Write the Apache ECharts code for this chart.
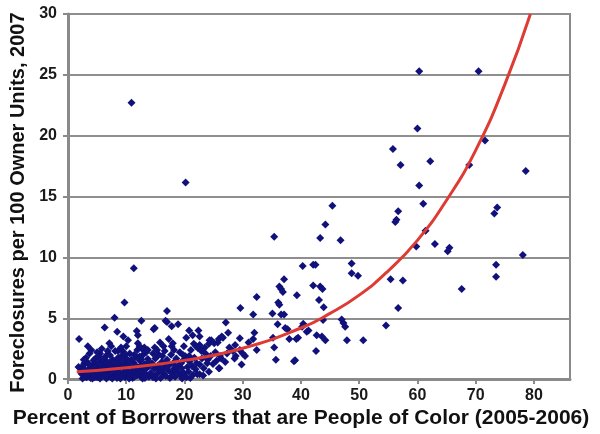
<!DOCTYPE html>
<html>
<head>
<meta charset="utf-8">
<script src="https://cdn.jsdelivr.net/npm/echarts@6/dist/echarts.min.js"></script>
<style>
html,body{margin:0;padding:0;background:#fff;}
#chart{width:600px;height:434px;}
</style>
</head>
<body>
<div id="chart"></div>
<script>
var xTitle = "Percent of Borrowers that are People of Color (2005-2006)";
var yTitle = "Foreclosures per 100 Owner Units, 2007";

var clusterLow = [
[2.1,0.9],[2.4,0.4],[2.6,1.1],[2.9,0.2],[3.0,0.7],[3.3,1.4],[3.5,0.3],[3.7,0.9],[3.9,0.1],[4.1,0.6],[4.3,1.2],[4.5,0.35],[4.7,1.7],[4.8,0.8],[5.0,0.15],[5.2,1.0],[5.4,0.5],[5.6,1.45],[5.8,0.25],[5.9,0.75],[6.1,1.15],[6.3,0.4],[6.5,1.9],[6.6,0.05],[6.8,0.95],[7.0,0.55],[7.1,1.3],[7.3,0.2],[7.5,0.8],[7.7,1.6],[7.9,0.35],[8.0,1.05],[8.2,0.6],[8.4,0.1],[8.5,1.4],[8.7,0.85],[8.9,0.3],[9.1,1.2],[9.2,1.9],[9.4,0.5],[9.6,0.9],[9.8,0.15],[9.9,1.5],[10.1,0.7],[10.3,0.3],[10.4,1.1],[10.6,2.1],[10.8,0.5],[11.0,0.95],[11.1,0.1],[11.3,1.35],[11.5,0.65],[11.7,1.8],[11.8,0.3],[12.0,1.0],[12.2,0.45],[12.4,1.5],[12.6,0.15],[12.7,0.8],[12.9,2.0],[13.1,1.2],[13.3,0.4],[13.5,0.9],[13.7,1.65],[13.9,0.2],[14.0,1.1],
[2.2,0.55],[2.8,1.3],[3.4,0.5],[4.0,0.95],[4.6,0.15],[5.1,0.6],[5.7,1.0],[6.2,0.7],[6.9,0.3],[7.4,1.05],[7.8,0.65],[8.3,1.25],[8.8,0.55],[9.3,0.25],[9.7,1.3],[10.2,0.95],[10.7,0.2],[11.2,0.55],[11.6,1.05],[12.1,0.75],[12.5,1.1],[13.0,0.5],[13.6,0.3],[3.1,1.75],[4.4,1.55],[5.3,1.85],[6.0,1.6],[7.2,1.95],[8.1,2.3],[8.6,1.75],[9.5,2.25],[10.0,1.7],[10.9,1.6],[11.9,2.4],[12.3,1.85],[13.4,2.2],[13.8,1.4],
[2.5,0.05],[3.2,0.15],[4.2,0.05],[5.5,0.05],[6.4,0.2],[7.6,0.05],[8.6,0.2],[9.0,0.05],[10.5,0.05],[11.4,0.2],[12.8,0.05],[13.2,0.1],[3.6,1.2],[4.9,1.3],[6.7,1.45],[8.9,1.6],[10.5,1.45],[11.4,2.0],[12.6,1.6],[2.7,1.6],[5.5,2.1],[6.8,2.3],[9.8,2.0],[13.1,2.6]
];

var clusterLowUpper = [
[1.9,3.3],[3.4,2.7],[4.0,2.4],[6.3,4.25],[7.1,2.95],[7.4,2.7],[8.0,5.05],[8.45,3.9],[8.6,2.3],[9.1,2.6],[9.5,3.5],[9.7,6.3],[10.0,2.7],[10.3,3.2],[11.3,9.1],[10.9,22.7],[11.8,3.95],[12.0,3.6],[12.0,2.95],[12.3,2.7],[12.6,4.8],[12.9,2.4],[13.7,2.4],[14.6,2.1],[14.7,4.1],[1.8,1.0],[5.0,2.2],[5.8,2.5],[3.7,2.1]
];

var clusterMid = [
[14.2,0.5],[14.4,1.3],[14.6,0.15],[14.8,0.85],[15.0,1.7],[15.2,0.4],[15.4,1.1],[15.6,2.0],[15.7,0.7],[15.9,0.1],[16.1,1.4],[16.3,0.5],[16.5,0.95],[16.6,2.3],[16.8,0.25],[17.0,1.6],[17.2,0.7],[17.4,1.15],[17.5,0.1],[17.7,2.0],[17.9,0.45],[18.1,1.35],[18.2,0.85],[18.4,0.2],[18.6,1.7],[18.8,0.6],[19.0,1.1],[19.2,2.2],[19.3,0.3],[19.5,0.9],[19.7,1.5],[19.9,0.5],[20.1,1.9],[20.3,0.15],[20.5,1.0],[20.7,0.6],[20.9,1.45],[21.1,2.4],[21.3,1.05],[21.5,0.35],[21.7,1.75],[21.9,0.8],[22.1,1.3],[22.2,0.4],[14.9,2.6],[15.8,3.0],[16.4,2.7],[17.3,3.3],[17.8,2.7],[18.0,2.95],[18.2,2.4],[19.9,2.7],[19.7,2.0],[20.8,1.9],[19.4,1.3],
[14.9,4.2],[16.75,4.8],[17.0,4.7],[17.0,5.6],[17.8,4.35],[18.9,4.5],[20.8,4.0],[22.4,4.0],[21.4,3.6],[20.3,3.4],[20.2,16.15],[22.6,2.8],[22.3,2.55],[22.0,2.7],[22.6,3.5],[22.6,2.5],[22.6,1.2],[22.6,0.4],
[15.1,0.05],[16.0,0.8],[16.9,1.2],[18.5,1.0],[19.6,0.05],[20.6,1.6],[21.0,0.1],[21.6,2.9],[15.3,2.4],[16.2,1.9]
];

var clusterC = [
[23.0,1.7],[23.3,0.9],[23.6,2.1],[23.9,1.3],[24.2,0.6],[24.5,1.9],[24.9,1.25],[25.9,0.9],[24.3,3.2],[24.2,2.9],[24.6,3.2],[25.1,2.95],[25.7,3.0],[25.9,3.3],[26.4,3.5],[26.6,3.4],[26.1,1.9],[26.3,1.7],[26.0,0.9],[27.1,4.65],[27.5,3.8],[27.7,2.6],[28.3,2.3],[28.7,2.8],[28.8,1.9],[28.6,1.7],[29.5,2.4],[30.0,2.1],[29.8,1.2],[29.6,5.85],[30.4,1.9],[22.9,2.3],[23.5,2.6],[24.0,1.6],[25.3,2.2],[27.0,1.4],[27.3,2.1],[23.2,0.3],[25.5,1.5],[29.5,3.35]
];

var clusterD = [
[31.8,5.3],[31.8,3.3],[32.0,3.8],[32.4,6.75],[32.4,2.4],[35.1,5.4],[35.2,3.4],[35.4,2.6],[35.4,11.7],[35.7,1.6],[36.0,4.5],[36.1,6.3],[36.3,6.1],[36.3,7.6],[36.6,7.4],[36.9,7.15],[36.6,5.3],[37.1,5.3],[37.1,8.2],[37.3,4.2],[37.7,4.1],[38.0,3.3],[38.8,1.46],[39.0,1.55],[39.2,3.3],[39.5,3.4],[39.3,6.9],[40.3,9.3],[40.2,4.3],[40.4,4.55],[41.0,3.9],[41.3,4.0],[42.1,9.4],[42.5,9.4],[42.1,7.7],[42.6,2.3],[42.7,3.6],[43.1,6.5],[43.3,7.6],[43.7,7.4],[43.3,11.6],[43.6,3.5],[43.8,4.85],[43.9,5.9],[44.2,12.7],[44.2,3.2],[45.4,14.25],[46.8,11.4],[47.0,4.9],[47.3,4.6],[47.6,4.3],[47.9,3.2],[48.7,9.5],[48.7,8.7],[49.8,8.5],[50.7,3.2],[31.0,3.0]
];

var clusterHigh = [
[54.6,4.4],[56.7,5.85],[55.4,8.2],[57.5,8.1],[56.2,12.9],[56.4,13.1],[56.7,13.8],[55.8,18.9],[57.1,17.6],[60.0,20.6],[60.3,25.3],[70.5,25.3],[62.2,17.9],[60.3,15.9],[61.0,14.4],[59.8,10.9],[61.4,12.2],[63.0,11.1],[65.5,10.8],[65.2,10.5],[67.6,7.4],[68.9,17.6],[71.6,19.6],[73.7,14.1],[73.2,13.6],[73.5,9.4],[73.5,8.4],[78.1,10.2],[78.6,17.1]
];

var trendX = [1.5, 10, 20, 30, 40, 45, 50, 55, 60, 65, 70, 75, 79.4];
var trendY = [0.61, 0.94, 1.54, 2.54, 4.2, 5.4, 6.9, 8.9, 11.4, 14.7, 18.8, 24.2, 30];

var xTicks = [0, 10, 20, 30, 40, 50, 60, 70, 80];
var yTicks = [0, 5, 10, 15, 20, 25, 30];

var points = [].concat(clusterLow, clusterLowUpper, clusterMid, clusterC, clusterD, clusterHigh);
var trend = trendX.map(function (x, i) { return [x, trendY[i]]; });

var chart = echarts.init(document.getElementById('chart'), null, {renderer: 'canvas'});
var fontFam = '"Liberation Sans", Arial, sans-serif';
chart.setOption({
  animation: false,
  backgroundColor: '#ffffff',
  grid: {left: 68, right: 30, top: 14, bottom: 51, show: true, borderColor: '#8a8a8a', borderWidth: 2},
  xAxis: {
    type: 'value', min: 0, max: 86.2, interval: 10,
    name: xTitle, nameLocation: 'middle', nameGap: 27,
    nameTextStyle: {fontFamily: fontFam, fontWeight: 'bold', fontSize: 21, color: '#111', padding: [0, 36, 0, 0]},
    axisLine: {show: true, lineStyle: {color: '#8a8a8a', width: 3}},
    axisTick: {show: true, length: 5, lineStyle: {color: '#8a8a8a', width: 2}},
    axisLabel: {fontFamily: fontFam, fontWeight: 'bold', fontSize: 16, color: '#1a1a1a', margin: 8, showMaxLabel: false,
      formatter: function (v) { return xTicks.indexOf(v) >= 0 ? String(v) : ''; }},
    splitLine: {show: false}
  },
  yAxis: {
    type: 'value', min: 0, max: 30, interval: 5,
    name: yTitle, nameLocation: 'middle', nameGap: 38, nameRotate: 90,
    nameTextStyle: {fontFamily: fontFam, fontWeight: 'bold', fontSize: 20, color: '#111', padding: [0, 12, 0, 0]},
    axisLine: {show: true, lineStyle: {color: '#8a8a8a', width: 3}},
    axisTick: {show: true, length: 5, lineStyle: {color: '#8a8a8a', width: 2}},
    axisLabel: {fontFamily: fontFam, fontWeight: 'bold', fontSize: 16, color: '#1a1a1a', margin: 11,
      formatter: function (v) { return yTicks.indexOf(v) >= 0 ? String(v) : ''; }},
    splitLine: {show: true, lineStyle: {color: '#8f8f8f', width: 2}}
  },
  series: [
    {
      type: 'scatter', data: points, symbol: 'diamond', symbolSize: 8,
      itemStyle: {color: '#11117c', opacity: 1}, z: 2
    },
    {
      type: 'line', data: trend, smooth: true, showSymbol: false, symbol: 'none',
      lineStyle: {color: '#dd3b34', width: 3}, z: 3
    }
  ]
});
</script>
</body>
</html>
